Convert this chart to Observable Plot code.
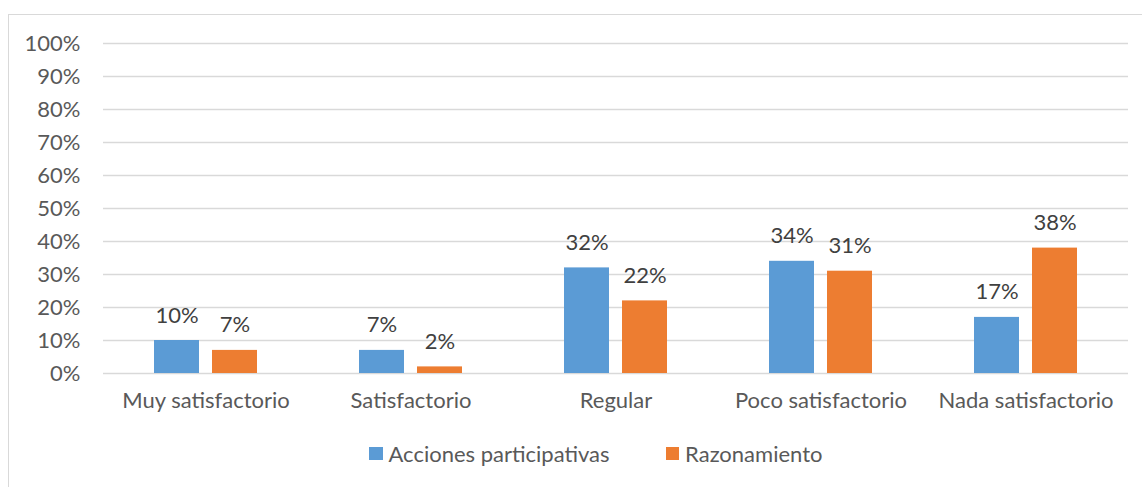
<!DOCTYPE html>
<html>
<head>
<meta charset="utf-8">
<script src="https://cdn.jsdelivr.net/npm/d3@7"></script>
<script src="https://cdn.jsdelivr.net/npm/@observablehq/plot@0.6"></script>
<style>
  html, body { margin: 0; padding: 0; background: #fff; width: 1142px; height: 487px; overflow: hidden; }
  #frame { position: absolute; left: 8px; top: 14px; width: 1300px; height: 600px;
           border-top: 1.5px solid #d9d9d9; border-left: 1.5px solid #d9d9d9; box-sizing: border-box; }
  #chart { position: absolute; left: 0; top: 0; }
  #legend { position: absolute; left: 369px; top: 440px; display: flex; align-items: center;
            font-family: Lato, sans-serif; font-size: 22px; color: #595959; }
  .sw { width: 13.5px; height: 13.5px; display: inline-block; margin-right: 6px; }
  .item { display: flex; align-items: center; margin-right: 56px; }
</style>
</head>
<body>
<div id="frame"></div>
<div id="chart"></div>
<div id="legend"></div>
<script>
const categories = ["Muy satisfactorio", "Satisfactorio", "Regular", "Poco satisfactorio", "Nada satisfactorio"];
const series = ["Acciones participativas", "Razonamiento"];
const acciones = [0.10, 0.07, 0.32, 0.34, 0.17];
const razonamiento = [0.07, 0.02, 0.22, 0.31, 0.38];
const yTicks = [0, 0.1, 0.2, 0.3, 0.4, 0.5, 0.6, 0.7, 0.8, 0.9, 1.0];
const colors = ["#5B9BD5", "#ED7D31"];

const data = [];
categories.forEach((c, i) => {
  data.push({category: c, series: series[0], value: acciones[i]});
  data.push({category: c, series: series[1], value: razonamiento[i]});
});
const pct = d => Math.round(d * 100) + "%";

const chart = Plot.plot({
  width: 1142,
  height: 430,
  marginLeft: 102,
  marginRight: 13,
  marginTop: 43,
  marginBottom: 57,
  style: {fontFamily: "Lato, sans-serif", fontSize: "22px", background: "transparent", overflow: "visible"},
  fx: {domain: categories, padding: 0, label: null},
  x: {domain: series, paddingInner: 0.218, paddingOuter: 0.87, axis: null},
  y: {domain: [0, 1], label: null},
  color: {domain: series, range: colors},
  marks: [
    Plot.gridY(yTicks, {stroke: "#d9d9d9", strokeOpacity: 1, strokeWidth: 1.5}),
    Plot.axisY(yTicks, {tickFormat: pct, tickSize: 0, tickPadding: 23, label: null, fill: "#595959"}),
    Plot.axisFx({anchor: "bottom", tickSize: 0, tickPadding: 19, label: null, fill: "#595959"}),
    Plot.barY(data, {fx: "category", x: "series", y: "value", fill: "series"}),
    Plot.text(data, {fx: "category", x: "series", y: "value", text: d => pct(d.value),
      dy: -18, lineAnchor: "bottom", fill: "#404040", fontSize: 22})
  ]
});
document.getElementById("chart").appendChild(chart);

const legend = document.getElementById("legend");
series.forEach((s, i) => {
  const item = document.createElement("div");
  item.className = "item";
  const sw = document.createElement("span");
  sw.className = "sw";
  sw.style.background = colors[i];
  const t = document.createElement("span");
  t.textContent = s;
  item.appendChild(sw);
  item.appendChild(t);
  legend.appendChild(item);
});
</script>
</body>
</html>
